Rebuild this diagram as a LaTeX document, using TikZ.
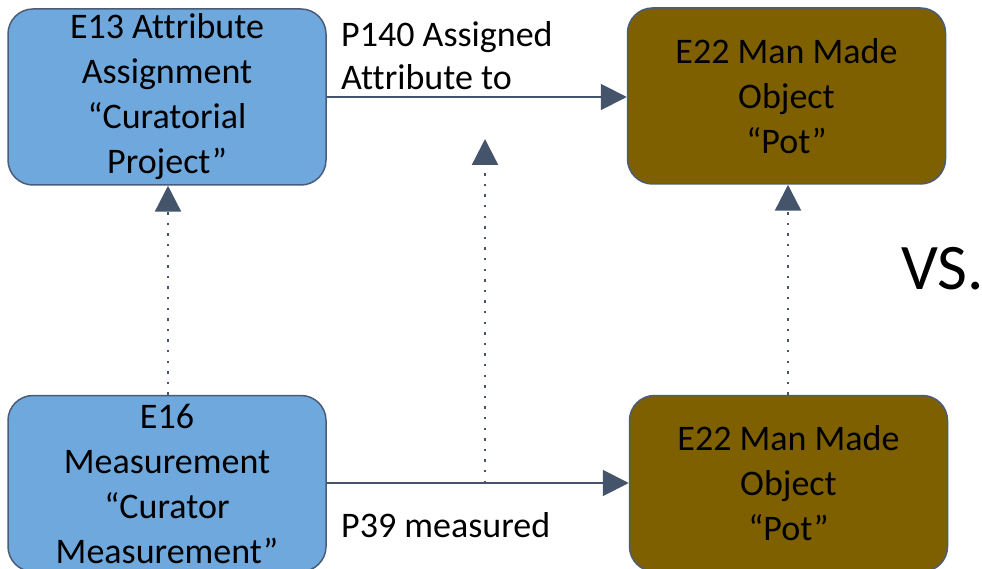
\documentclass[tikz,border=0pt]{standalone}
\usepackage{fontspec}
\setmainfont{Carlito}[Ligatures={NoCommon,NoContextual}]
\usetikzlibrary{arrows.meta}
\definecolor{eventblue}{HTML}{6FA8DC}
\definecolor{objbrown}{HTML}{7F6000}
\definecolor{linegray}{HTML}{44546A}
\definecolor{boxline}{HTML}{4A5C78}
\tikzset{
  classbox/.style={draw=boxline, line width=1.5pt, rounded corners=25pt,
    minimum width=318pt, minimum height=176pt, inner sep=0pt,
    align=center, font=\fontsize{36}{45}\selectfont},
  relarrow/.style={linegray, line width=2pt, -{Triangle[length=26pt,width=26pt]}},
  linkarrow/.style={relarrow, line width=2.4pt, dash pattern=on 2.4pt off 8.2pt},
  proplabel/.style={align=left, inner sep=0pt, font=\fontsize{36}{43}\selectfont}
}
\begin{document}
\begin{tikzpicture}[x=1pt,y=-1pt]
\useasboundingbox (0,0) rectangle (982,569);
\node[classbox, fill=eventblue] (e13) at (167,97){E13 Attribute\\Assignment\\“Curatorial\\Project”};
\node[classbox, fill=objbrown] (e22a) at (786.5,96){E22 Man Made\\Object\\“Pot”};
\node[classbox, fill=eventblue] (e16) at (167,483.5){E16\\Measurement\\“Curator\\Measurement”};
\node[classbox, fill=objbrown] (e22b) at (788.5,483.5){E22 Man Made\\Object\\“Pot”};
\draw[relarrow](e13.east |- 0,97) -- (e22a.west |- 0,97);
\draw[relarrow](e16.east |- 0,483) -- (e22b.west |- 0,483);
\draw[linkarrow](e16.north -| 168,0) -- (e13.south -| 168,0);
\draw[linkarrow](e22b.north -| 788,0) -- (e22a.south -| 788,0);
\coordinate (mid0) at (485,483);
\coordinate (mid1) at (485,139);
\draw[linkarrow](mid0) -- (mid1);
\node[proplabel, anchor=west] (p140) at (341,56){P140 Assigned\\Attribute to};
\node[proplabel, anchor=west] (p39) at (341,525){P39 measured};
\node[inner sep=0pt, anchor=base west, font=\fontsize{65}{70}\selectfont] (vs) at (901,290){VS.};
\end{tikzpicture}
\end{document}
